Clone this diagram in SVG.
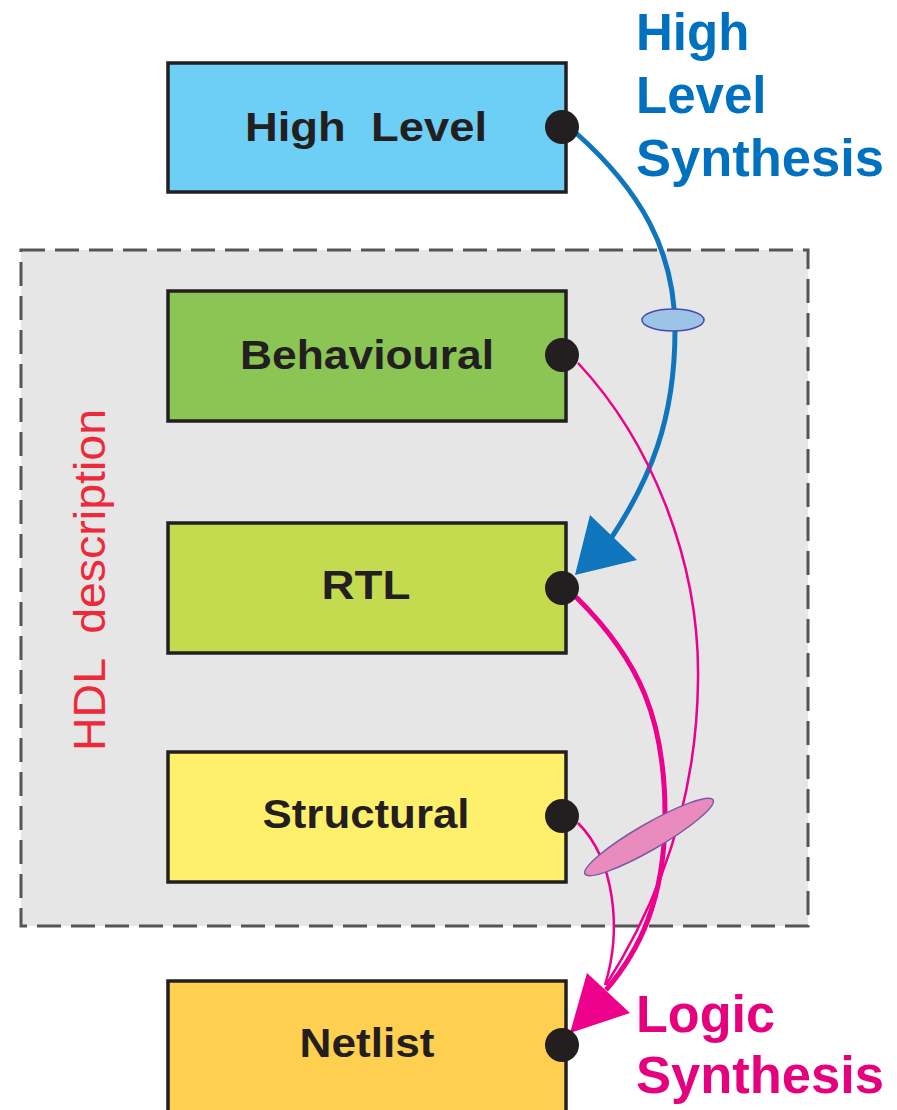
<svg xmlns="http://www.w3.org/2000/svg" width="897" height="1110" viewBox="0 0 897 1110">
<defs>
<style>
.box{stroke:#231f20;stroke-width:3.5}
.lbl{font-family:"Liberation Sans",Arial,sans-serif;font-weight:bold;font-size:40px;fill:#231f20;text-anchor:middle}
.dot{fill:#231f20}
.big{font-family:"Liberation Sans",Arial,sans-serif;font-weight:bold;font-size:51px}
</style>
</defs>
<rect width="897" height="1110" fill="#ffffff"/>
<g id="hdl-region">
<rect x="21" y="250" width="787" height="676" fill="#e6e6e6" stroke="#555555" stroke-width="3" stroke-dasharray="24,10"/>
<text x="105" y="580" transform="rotate(-90 105 580)" font-family="Liberation Sans,Arial,sans-serif" font-size="44" fill="#ee2a3a" text-anchor="middle" textLength="342" lengthAdjust="spacingAndGlyphs" xml:space="preserve">HDL  description</text>
</g>
<g id="node-highlevel">
<rect class="box" x="168" y="63" width="398" height="129" fill="#6dcff6"/>
<text class="lbl" x="366" y="141" textLength="242" lengthAdjust="spacingAndGlyphs" xml:space="preserve">High  Level</text>
</g>
<g id="node-behavioural">
<rect class="box" x="168" y="291" width="398" height="130" fill="#8bc553"/>
<text class="lbl" x="367" y="369" textLength="254" lengthAdjust="spacingAndGlyphs">Behavioural</text>
</g>
<g id="node-rtl">
<rect class="box" x="168" y="523" width="398" height="130" fill="#c4da4f"/>
<text class="lbl" x="366" y="599" textLength="89" lengthAdjust="spacingAndGlyphs">RTL</text>
</g>
<g id="node-structural">
<rect class="box" x="168" y="752" width="398" height="130" fill="#fff06b"/>
<text class="lbl" x="366" y="828" textLength="207" lengthAdjust="spacingAndGlyphs">Structural</text>
</g>
<g id="node-netlist">
<rect class="box" x="168" y="981" width="398" height="135" fill="#ffd04f"/>
<text class="lbl" x="367" y="1057" textLength="135" lengthAdjust="spacingAndGlyphs">Netlist</text>
</g>
<g id="connectors" fill="none">
<path d="M576,133 C640,190 675,250 675,330 C675,420 650,480 610,540" stroke="#0f75bc" stroke-width="5"/>
<path d="M575,575 L590,515 L637,560 Z" fill="#0f75bc"/>
<ellipse cx="673" cy="320" rx="31" ry="11" fill="#9cc4e6" stroke="#4a4aa8" stroke-width="1.5"/>
<path d="M578,363 C650,440 700,560 698,680 C697,800 660,900 606,985" stroke="#ec008c" stroke-width="2.5"/>
<path d="M578,823 C615,860 622,930 605,985" stroke="#ec008c" stroke-width="2.5"/>
<path d="M576,597 C640,660 666,720 665,820 C664,900 640,950 606,990" stroke="#ec008c" stroke-width="5"/>
<path d="M570,1033 L587,973 L630,1013 Z" fill="#ec008c"/>
<ellipse cx="649" cy="837" rx="74" ry="13" transform="rotate(-30 649 837)" fill="#e98bbd" stroke="#7b5aa6" stroke-width="1.5"/>
</g>
<g id="dots">
<circle class="dot" cx="562" cy="127" r="17"/>
<circle class="dot" cx="562" cy="355" r="17"/>
<circle class="dot" cx="562" cy="588" r="17"/>
<circle class="dot" cx="562" cy="816" r="17"/>
<circle class="dot" cx="562" cy="1045" r="17"/>
</g>
<g id="label-hls" fill="#0070c0">
<text class="big" x="636" y="50">High</text>
<text class="big" x="636" y="113">Level</text>
<text class="big" x="636" y="176" textLength="248" lengthAdjust="spacingAndGlyphs">Synthesis</text>
</g>
<g id="label-ls" fill="#e6007e">
<text class="big" x="636" y="1032" textLength="139" lengthAdjust="spacingAndGlyphs">Logic</text>
<text class="big" x="636" y="1093" textLength="248" lengthAdjust="spacingAndGlyphs">Synthesis</text>
</g>
</svg>
